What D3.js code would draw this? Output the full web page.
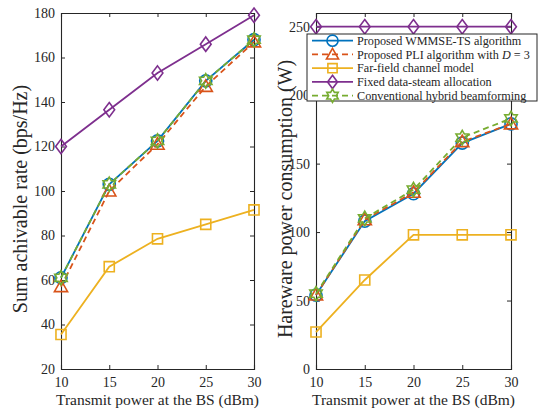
<!DOCTYPE html>
<html><head><meta charset="utf-8">
<script src="https://cdn.jsdelivr.net/npm/d3@7"></script>
<style>body{margin:0;background:#fff}svg{display:block}text{font-family:"Liberation Serif","DejaVu Serif",serif;fill:#262626}</style>
</head><body><svg id="c" width="538" height="411"></svg>
<script>
const xVals = [10, 15, 20, 25, 30];
const xTicks = [10, 15, 20, 25, 30];
const seriesNames = ["Proposed WMMSE-TS algorithm", "Proposed PLI algorithm with D = 3", "Far-field channel model", "Fixed data-steam allocation", "Conventional hybrid beamforming"];
const rateWMMSE = [61, 103, 122.5, 149.5, 168];
const ratePLI = [57, 100, 121, 147, 167];
const rateFar = [35.5, 66, 78.5, 85, 91.5];
const rateFixed = [120, 136.5, 153, 166, 179];
const rateConv = [61, 103, 122.5, 149.5, 168];
const powWMMSE = [54, 108, 128, 165, 179];
const powPLI = [54, 109, 129, 166, 179];
const powFar = [27, 65, 98, 98, 98];
const powFixed = [250, 250, 250, 250, 250];
const powConv = [55, 110, 131, 169, 183];
const rateTicks = [20, 40, 60, 80, 100, 120, 140, 160, 180];
const powTicks = [0, 50, 100, 150, 200, 250];

const colors = ["#0072BD", "#D95319", "#EDB120", "#7E2F8E", "#77AC30"];
const dashes = [null, "6,4", null, null, "6,4"];
const markers = ["circle", "triangle", "square", "diamond", "hexagram"];
const drawOrder = [3, 2, 0, 1, 4];

const svg = d3.select("#c");

function markerPath(type, s) {
  if (type === "circle") return d3.symbol(d3.symbolCircle, s * s * 0.8)();
  if (type === "square") { const h = s * 0.42; return `M${-h},${-h}H${h}V${h}H${-h}Z`; }
  if (type === "diamond") { const h = s * 0.6, w = s * 0.45; return `M0,${-h}L${w},0L0,${h}L${-w},0Z`; }
  if (type === "triangle") { const h = s * 0.55; return `M0,${-h}L${h},${h * 0.75}L${-h},${h * 0.75}Z`; }
  if (type === "hexagram") {
    const R = s * 0.6, r = R * 0.58; let p = "";
    for (let i = 0; i < 12; i++) { const a = -Math.PI / 2 + i * Math.PI / 6; const rr = i % 2 ? r : R; p += (i ? "L" : "M") + (rr * Math.cos(a)).toFixed(2) + "," + (rr * Math.sin(a)).toFixed(2); }
    return p + "Z";
  }
}

function panel(x0, x1, y0, y1, yDom, yTicksArr, data, ylabel, ylabelX) {
  const x = d3.scaleLinear().domain([10, 30]).range([x0, x1]);
  const y = d3.scaleLinear().domain(yDom).range([y1, y0]);
  const g = svg.append("g");
  const tl = 4;
  const ax = g.append("g").attr("transform", `translate(0,${y1})`).call(d3.axisBottom(x).tickValues(xTicks).tickSize(-tl).tickPadding(8).tickFormat(d3.format("d")));
  const axT = g.append("g").attr("transform", `translate(0,${y0})`).call(d3.axisTop(x).tickValues(xTicks).tickSize(-tl).tickFormat(""));
  const ay = g.append("g").attr("transform", `translate(${x0},0)`).call(d3.axisLeft(y).tickValues(yTicksArr).tickSize(-tl).tickPadding(6).tickFormat(d3.format("d")));
  const ayR = g.append("g").attr("transform", `translate(${x1},0)`).call(d3.axisRight(y).tickValues(yTicksArr).tickSize(-tl).tickFormat(""));
  [ax, axT, ay, ayR].forEach(a => {
    a.select(".domain").attr("stroke", "#262626").attr("stroke-width", 1.1);
    a.selectAll(".tick line").attr("stroke", "#262626").attr("stroke-width", 1);
    a.selectAll("text").style("font-size", "14px").style("font-family", '"Liberation Serif",serif').attr("fill", "#333");
  });
  g.append("text").attr("x", (x0 + x1) / 2).attr("y", 405).attr("text-anchor", "middle").style("font-size", "15.5px").text("Transmit power at the BS (dBm)");
  g.append("text").attr("transform", `translate(${ylabelX},199) rotate(-90)`).attr("text-anchor", "middle").style("font-size", "20px").text(ylabel);
  const line = d3.line().x((d, i) => x(xVals[i])).y(d => y(d));
  drawOrder.forEach(k => {
    const vals = data[k];
    g.append("path").datum(vals).attr("d", line).attr("fill", "none").attr("stroke", colors[k]).attr("stroke-width", 1.8).attr("stroke-dasharray", dashes[k]);
    g.selectAll(null).data(vals).enter().append("path")
      .attr("transform", (d, i) => `translate(${x(xVals[i])},${y(d)})`)
      .attr("d", markerPath(markers[k], 12)).attr("fill", "none").attr("stroke", colors[k]).attr("stroke-width", 1.6);
  });
  return { x, y };
}

panel(61, 254, 13, 369, [20, 180], rateTicks, [rateWMMSE, ratePLI, rateFar, rateFixed, rateConv], "Sum achivable rate (bps/Hz)", 27);
panel(316, 511, 13, 369, [0, 260], powTicks, [powWMMSE, powPLI, powFar, powFixed, powConv], "Hareware power consumption (W)", 292);

// legend
const lg = svg.append("g");
const lx = 307, ly = 34, lw = 230, lh = 67;
lg.append("rect").attr("x", lx).attr("y", ly).attr("width", lw).attr("height", lh).attr("fill", "#fff").attr("stroke", "#262626").attr("stroke-width", 1);
seriesNames.forEach((name, k) => {
  const yy = ly + 6.7 + k * 13.75;
  lg.append("line").attr("x1", lx + 5).attr("x2", lx + 46).attr("y1", yy).attr("y2", yy).attr("stroke", colors[k]).attr("stroke-width", 1.8).attr("stroke-dasharray", dashes[k]);
  lg.append("path").attr("transform", `translate(${lx + 25.5},${yy})`).attr("d", markerPath(markers[k], 11)).attr("fill", "none").attr("stroke", colors[k]).attr("stroke-width", 1.6);
  const t = lg.append("text").attr("x", lx + 50).attr("y", yy + 4.2).style("font-size", "12.2px");
  if (k === 1) {
    t.append("tspan").text("Proposed PLI algorithm with ");
    t.append("tspan").style("font-style", "italic").text("D");
    t.append("tspan").text(" = 3");
  } else t.text(name);
});
</script></body></html>
